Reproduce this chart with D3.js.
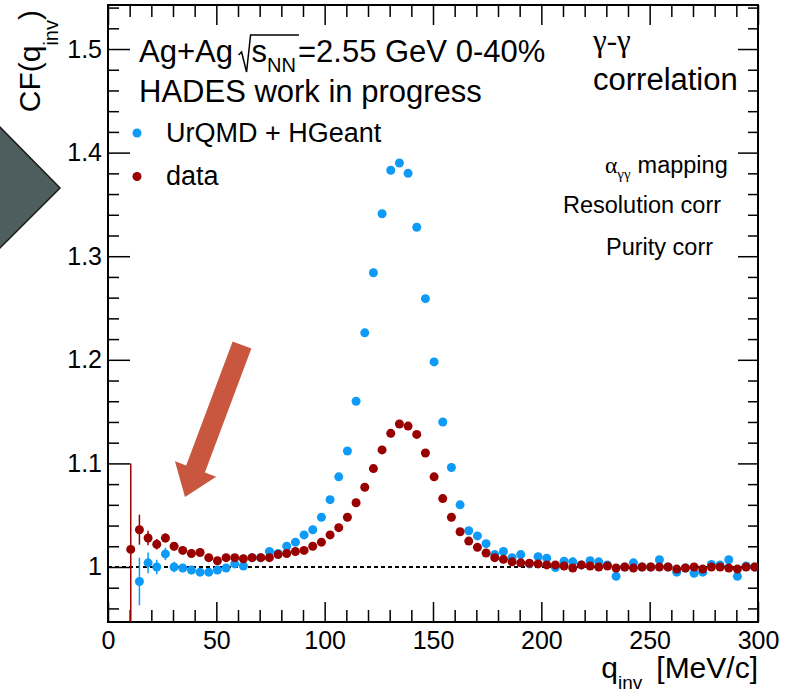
<!DOCTYPE html>
<html>
<head>
<meta charset="utf-8">
<script src="https://cdn.jsdelivr.net/npm/d3@7"></script>
<style>
  body { margin: 0; background: #fff; }
  text { font-family: "Liberation Sans", Arial, Helvetica, sans-serif; fill: #000; }
  .serif { font-family: "Liberation Serif", "Times New Roman", serif; }
</style>
</head>
<body>
<div id="chart"></div>
<script>
////////////////////////////////////////////////////////////////////////
// values: bin centres in MeV/c, CF value, stat error

let qData = [10.5, 14.5, 18.5, 22.5, 26.5, 30.5, 34.5, 38.5, 42.5, 46.5,
  50.5, 54.5, 58.5, 62.5, 66.5, 70.5, 74.5, 78.5, 82.5, 86.5,
  90.5, 94.5, 98.5, 102.5, 106.5, 110.5, 114.5, 118.5, 122.5, 126.5,
  130.5, 134.5, 138.5, 142.5, 146.5, 150.5, 154.5, 158.5, 162.5, 166.5,
  170.5, 174.5, 178.5, 182.5, 186.5, 190.5, 194.5, 198.5, 202.5, 206.5,
  210.5, 214.5, 218.5, 222.5, 226.5, 230.5, 234.5, 238.5, 242.5, 246.5,
  250.5, 254.5, 258.5, 262.5, 266.5, 270.5, 274.5, 278.5, 282.5, 286.5,
  290.5, 294.5, 298.5];
let cfData = [1.017, 1.036, 1.028, 1.022, 1.028, 1.020, 1.016, 1.013, 1.014, 1.009,
  1.006, 1.009, 1.009, 1.008, 1.009, 1.009, 1.009, 1.012, 1.013, 1.015,
  1.016, 1.020, 1.024, 1.031, 1.038, 1.048, 1.062, 1.077, 1.095, 1.113,
  1.129, 1.138, 1.136, 1.128, 1.110, 1.087, 1.066, 1.048, 1.034, 1.025,
  1.019, 1.0135, 1.009, 1.0074, 1.005, 1.004, 1.0036, 1.003, 1.002, 1.002,
  1.001, 0.999, 1.002, 1.001, 1.000, 1.001, 0.999, 1.000, 0.999, 1.000,
  1.000, 1.000, 1.000, 0.998, 0.999, 1.000, 0.998, 1.000, 1.000, 0.999,
  0.998, 1.000, 1.000];
let errData = [0.083, 0.0145, 0.007, 0.005, 0.0045, 0.004, 0.0035, 0.003, 0.003, 0.003,
  0.0025, 0.0025, 0.0025, 0.0025, 0.002, 0.002, 0.002, 0.002, 0.002, 0.002,
  0.002, 0.002, 0.002, 0.002, 0.002, 0.002, 0.002, 0.002, 0.002, 0.002,
  0.002, 0.002, 0.002, 0.002, 0.002, 0.002, 0.002, 0.002, 0.002, 0.002,
  0.002, 0.002, 0.002, 0.002, 0.002, 0.002, 0.002, 0.002, 0.002, 0.002,
  0.002, 0.002, 0.002, 0.002, 0.002, 0.002, 0.002, 0.002, 0.002, 0.002,
  0.002, 0.002, 0.002, 0.002, 0.002, 0.002, 0.002, 0.002, 0.002, 0.002,
  0.002, 0.002, 0.002];

let qSim = [14.5, 18.5, 22.5, 26.5, 30.5, 34.5, 38.5, 42.5, 46.5, 50.5,
  54.5, 58.5, 62.5, 66.5, 70.5, 74.5, 78.5, 82.5, 86.5, 90.5,
  94.5, 98.5, 102.5, 106.5, 110.5, 114.5, 118.5, 122.5, 126.5, 130.5,
  134.5, 138.5, 142.5, 146.5, 150.5, 154.5, 158.5, 162.5, 166.5, 170.5,
  174.5, 178.5, 182.5, 186.5, 190.5, 194.5, 198.5, 202.5, 206.5, 210.5,
  214.5, 218.5, 222.5, 226.5, 230.5, 234.5, 238.5, 242.5, 246.5, 250.5,
  254.5, 258.5, 262.5, 266.5, 270.5, 274.5, 278.5, 282.5, 286.5, 290.5,
  294.5, 298.5];
let cfSim = [0.986, 1.004, 1.000, 1.0126, 1.000, 0.999, 0.997, 0.995, 0.995, 0.997,
  0.999, 1.003, 1.001, 1.009, 1.009, 1.015, 1.013, 1.020, 1.024, 1.031,
  1.036, 1.048, 1.065, 1.087, 1.112, 1.160, 1.226, 1.284, 1.341, 1.383,
  1.390, 1.380, 1.328, 1.259, 1.198, 1.140, 1.096, 1.060, 1.035, 1.030,
  1.0225, 1.012, 1.015, 1.009, 1.012, 1.003, 1.010, 1.0085, 0.9995, 1.0055,
  1.005, 1.002, 1.006, 1.005, 1.002, 0.991, 1.000, 1.004, 1.000, 1.000,
  1.007, 1.000, 0.995, 0.999, 0.994, 0.995, 1.0025, 1.002, 1.007, 0.991,
  1.001, 1.000];
let errSim = [0.023, 0.010, 0.007, 0.006, 0.005, 0.004, 0.004, 0.003, 0.003, 0.003,
  0.003, 0.003, 0.003, 0.003, 0.003, 0.003, 0.003, 0.003, 0.003, 0.003,
  0.003, 0.003, 0.003, 0.003, 0.003, 0.003, 0.003, 0.003, 0.003, 0.003,
  0.003, 0.003, 0.003, 0.003, 0.003, 0.003, 0.003, 0.003, 0.003, 0.003,
  0.003, 0.003, 0.003, 0.003, 0.003, 0.003, 0.003, 0.003, 0.003, 0.003,
  0.003, 0.003, 0.003, 0.003, 0.003, 0.003, 0.003, 0.003, 0.003, 0.003,
  0.003, 0.003, 0.003, 0.003, 0.003, 0.003, 0.003, 0.003, 0.003, 0.003,
  0.003, 0.003];

let xTicks = [0, 50, 100, 150, 200, 250, 300];
let yTicks = [1, 1.1, 1.2, 1.3, 1.4, 1.5];
let legendNames = ["UrQMD + HGeant", "data"];
let colors = ["#0d9bf7", "#990000"];

////////////////////////////////////////////////////////////////////////
// canvas + frame

let width = 787, height = 696;
let padL = 108, padR = 758, padT = 5, padB = 622;

let svg = d3.select("#chart").append("svg")
  .attr("width", width).attr("height", height);

svg.append("rect").attr("width", width).attr("height", height).attr("fill", "#fff");

let xScale = d3.scaleLinear().domain([0, 300]).range([padL, padR]);
let yScale = d3.scaleLinear().domain([0.9469, 1.5425]).range([padB, padT]);

// minor tick positions (10 MeV/c and 0.02 steps)
let xMinor = d3.range(0, 301, 10).filter(v => v % 50 !== 0);
let yMinor = d3.range(96, 155, 2).map(v => v / 100).filter(v => Math.round(v * 100) % 10 !== 0);

function drawAxis(axis, tr) {
  let g = svg.append("g").attr("transform", tr).call(axis);
  g.select(".domain").remove();
  g.selectAll("line").attr("stroke", "#000").attr("stroke-width", 1.5);
  return g;
}

// ROOT style: ticks point into the frame on all four sides
let fmt = d => d === 1 ? "1" : d3.format(".1f")(d);
let gx = drawAxis(d3.axisBottom(xScale).tickValues(xTicks).tickSizeInner(-20).tickSizeOuter(0).tickPadding(9),
  "translate(0," + padB + ")");
gx.selectAll("text").attr("font-size", 25).attr("fill", "#000");
drawAxis(d3.axisBottom(xScale).tickValues(xMinor).tickSizeInner(-12).tickSizeOuter(0).tickFormat(""),
  "translate(0," + padB + ")");
drawAxis(d3.axisTop(xScale).tickValues(xTicks).tickSizeInner(-20).tickSizeOuter(0).tickFormat(""),
  "translate(0," + padT + ")");
drawAxis(d3.axisTop(xScale).tickValues(xMinor).tickSizeInner(-12).tickSizeOuter(0).tickFormat(""),
  "translate(0," + padT + ")");

let gy = drawAxis(d3.axisLeft(yScale).tickValues(yTicks).tickSizeInner(-22).tickSizeOuter(0).tickPadding(6).tickFormat(fmt),
  "translate(" + padL + ",0)");
gy.selectAll("text").attr("font-size", 25).attr("fill", "#000");
drawAxis(d3.axisLeft(yScale).tickValues(yMinor).tickSizeInner(-11).tickSizeOuter(0).tickFormat(""),
  "translate(" + padL + ",0)");
drawAxis(d3.axisRight(yScale).tickValues(yTicks).tickSizeInner(-20).tickSizeOuter(0).tickFormat(""),
  "translate(" + padR + ",0)");
drawAxis(d3.axisRight(yScale).tickValues(yMinor).tickSizeInner(-10).tickSizeOuter(0).tickFormat(""),
  "translate(" + padR + ",0)");

svg.append("rect")
  .attr("x", padL).attr("y", padT)
  .attr("width", padR - padL).attr("height", padB - padT)
  .attr("fill", "none").attr("stroke", "#000").attr("stroke-width", 2);

// reference line at CF = 1
svg.append("line")
  .attr("x1", padL).attr("x2", padR)
  .attr("y1", yScale(1)).attr("y2", yScale(1))
  .attr("stroke", "#000").attr("stroke-width", 2).attr("stroke-dasharray", "4,3");

////////////////////////////////////////////////////////////////////////
// points with error bars

svg.append("clipPath").attr("id", "frame")
  .append("rect").attr("x", padL).attr("y", padT)
  .attr("width", padR - padL).attr("height", padB - padT);

function drawSeries(qs, vals, errs, color) {
  let rows = qs.map((q, i) => ({q: q, v: vals[i], e: errs[i]}));
  let g = svg.append("g").attr("clip-path", "url(#frame)");
  g.selectAll("line").data(rows).enter().append("line")
    .attr("x1", d => xScale(d.q)).attr("x2", d => xScale(d.q))
    .attr("y1", d => yScale(d.v - d.e)).attr("y2", d => yScale(d.v + d.e))
    .attr("stroke", color).attr("stroke-width", 1.5);
  g.selectAll("circle").data(rows).enter().append("circle")
    .attr("cx", d => xScale(d.q)).attr("cy", d => yScale(d.v))
    .attr("r", 4.5).attr("fill", color);
}

drawSeries(qSim, cfSim, errSim, colors[0]);
drawSeries(qData, cfData, errData, colors[1]);

////////////////////////////////////////////////////////////////////////
// texts

let t1 = svg.append("text").attr("x", 139).attr("y", 62).attr("font-size", 31);
t1.append("tspan").text("Ag+Ag ");
let sTs = t1.append("tspan").attr("dx", 10).text("s");
let nnTs = t1.append("tspan").attr("font-size", 20).attr("dy", 10).text("NN");
t1.append("tspan").attr("dy", -10).attr("dx", 2).text("=2.55 GeV 0-40%");

// square root sign over s_NN
let sBox = sTs.node().getBBox(), nnBox = nnTs.node().getBBox();
svg.append("path")
  .attr("d", "M" + (sBox.x - 13) + ",55 L" + (sBox.x - 10) + ",52 L" + (sBox.x - 5) + ",72 L" + (sBox.x - 1) + ",35 L" + (nnBox.x + nnBox.width + 3) + ",35")
  .attr("fill", "none").attr("stroke", "#000").attr("stroke-width", 1.5);

svg.append("text").attr("x", 139).attr("y", 102).attr("font-size", 31).text("HADES work in progress");

svg.selectAll(".legtext").data(legendNames).enter().append("text")
  .attr("x", 166).attr("y", (d, i) => 142 + i * 43)
  .attr("font-size", 27).text(d => d);
svg.selectAll(".legdot").data(legendNames).enter().append("circle")
  .attr("cx", 137).attr("cy", (d, i) => 133 + i * 43.5)
  .attr("r", 4.5).attr("fill", (d, i) => colors[i]);

svg.append("text").attr("class", "serif").attr("x", 593).attr("y", 51).attr("font-size", 31).text("γ-γ");
svg.append("text").attr("x", 593).attr("y", 90).attr("font-size", 31).text("correlation");

let ta = svg.append("text").attr("x", 605).attr("y", 173).attr("font-size", 23.5);
ta.append("tspan").attr("class", "serif").text("α");
ta.append("tspan").attr("class", "serif").attr("font-size", 15).attr("dy", 6).text("γγ");
ta.append("tspan").attr("dy", -6).attr("dx", 7).text("mapping");
svg.append("text").attr("x", 563).attr("y", 213).attr("font-size", 23.5).text("Resolution corr");
svg.append("text").attr("x", 606).attr("y", 255).attr("font-size", 23.5).text("Purity corr");

// axis titles
let ty = svg.append("text").attr("transform", "translate(40,10) rotate(-90)")
  .attr("text-anchor", "end").attr("font-size", 30);
ty.append("tspan").text("CF(q");
ty.append("tspan").attr("font-size", 20).attr("dy", 18).text("inv");
ty.append("tspan").attr("dy", -18).text(")");

let tx = svg.append("text").attr("x", padR).attr("y", 678)
  .attr("text-anchor", "end").attr("font-size", 30);
tx.append("tspan").text("q");
tx.append("tspan").attr("font-size", 19).attr("dy", 11).text("inv");
tx.append("tspan").attr("dy", -11).attr("dx", 14).text("[MeV/c]");

////////////////////////////////////////////////////////////////////////
// slide decorations: grey chevron and orange arrow

svg.append("polygon")
  .attr("points", "-10,117 60,188 -10,258")
  .attr("fill", "#4e5e5e").attr("stroke", "#1a1a1a").attr("stroke-width", 1.5);

function arrowPoints(x0, y0, x1, y1, sw, hw, hl) {
  let len = Math.hypot(x1 - x0, y1 - y0);
  let ux = (x1 - x0) / len, uy = (y1 - y0) / len;
  let nx = -uy, ny = ux;
  let bx = x1 - ux * hl, by = y1 - uy * hl;
  let p = [
    [x0 + nx * sw / 2, y0 + ny * sw / 2],
    [bx + nx * sw / 2, by + ny * sw / 2],
    [bx + nx * hw / 2, by + ny * hw / 2],
    [x1, y1],
    [bx - nx * hw / 2, by - ny * hw / 2],
    [bx - nx * sw / 2, by - ny * sw / 2],
    [x0 - nx * sw / 2, y0 - ny * sw / 2]
  ];
  return p.map(d => d.join(",")).join(" ");
}

svg.append("polygon")
  .attr("points", arrowPoints(242, 345, 185, 497, 20, 44, 30))
  .attr("fill", "#c9573f");
</script>
</body>
</html>
